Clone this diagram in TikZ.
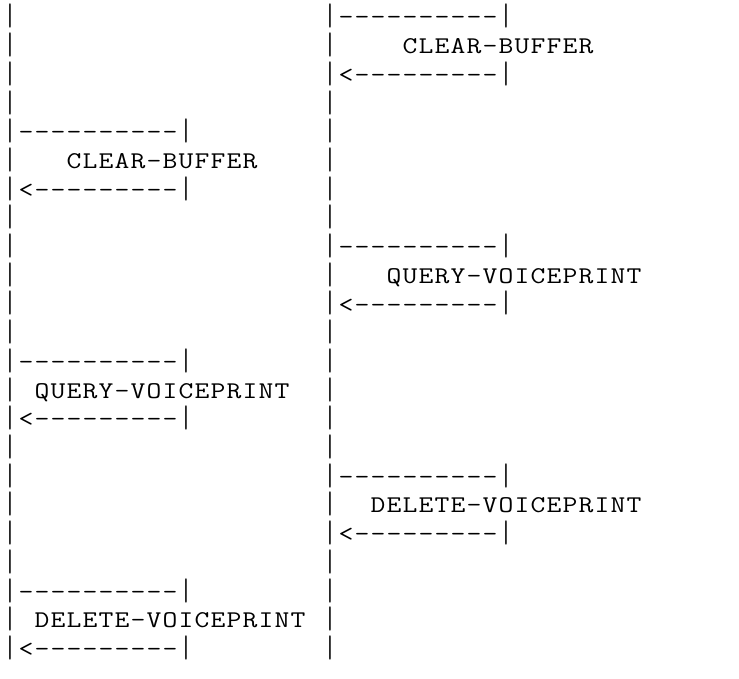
\documentclass[tikz,border=0pt]{standalone}
\usepackage{fontspec}
\newcommand\cellrow[1]{\cellrowA#1\relax}
\def\cellrowA#1{\ifx\relax#1\else
  \ifx|#1\makebox[16pt][c]{\raisebox{-1pt}{\scalebox{1}[1.3]{|}}}%
  \else\makebox[16pt][c]{\scalebox{1.2}[1]{#1}}\fi
  \expandafter\cellrowA\fi}
\tikzset{
  seg/.style={anchor=base west, inner sep=0pt, outer sep=0pt,
    font=\ttfamily\fontsize{24}{24}\selectfont, text=black}
}
\newcommand\seg[4]{\node[seg] (#1) at ({2+16*#2},{25+28.7*#3}) {\cellrow{#4}};}
\begin{document}
\begin{tikzpicture}[x=1pt,y=-1pt]
\fill[white] (0,0) rectangle (739,679);
\useasboundingbox (0,0) rectangle (739,679);
% row 0-3
\seg{l0}{0}{0}{|}\seg{m0}{20}{0}{|----------|}
\seg{l1}{0}{1}{|}\seg{m1}{20}{1}{|}\seg{t1}{25}{1}{CLEAR-BUFFER}
\seg{l2}{0}{2}{|}\seg{m2}{20}{2}{|<---------|}
\seg{l3}{0}{3}{|}\seg{m3}{20}{3}{|}
% row 4-7
\seg{l4}{0}{4}{|----------|}\seg{m4}{20}{4}{|}
\seg{l5}{0}{5}{|}\seg{t5}{4}{5}{CLEAR-BUFFER}\seg{m5}{20}{5}{|}
\seg{l6}{0}{6}{|<---------|}\seg{m6}{20}{6}{|}
\seg{l7}{0}{7}{|}\seg{m7}{20}{7}{|}
% row 8-11
\seg{l8}{0}{8}{|}\seg{m8}{20}{8}{|----------|}
\seg{l9}{0}{9}{|}\seg{m9}{20}{9}{|}\seg{t9}{24}{9}{QUERY-VOICEPRINT}
\seg{l10}{0}{10}{|}\seg{m10}{20}{10}{|<---------|}
\seg{l11}{0}{11}{|}\seg{m11}{20}{11}{|}
% row 12-15
\seg{l12}{0}{12}{|----------|}\seg{m12}{20}{12}{|}
\seg{l13}{0}{13}{|}\seg{t13}{2}{13}{QUERY-VOICEPRINT}\seg{m13}{20}{13}{|}
\seg{l14}{0}{14}{|<---------|}\seg{m14}{20}{14}{|}
\seg{l15}{0}{15}{|}\seg{m15}{20}{15}{|}
% row 16-19
\seg{l16}{0}{16}{|}\seg{m16}{20}{16}{|----------|}
\seg{l17}{0}{17}{|}\seg{m17}{20}{17}{|}\seg{t17}{23}{17}{DELETE-VOICEPRINT}
\seg{l18}{0}{18}{|}\seg{m18}{20}{18}{|<---------|}
\seg{l19}{0}{19}{|}\seg{m19}{20}{19}{|}
% row 20-22
\seg{l20}{0}{20}{|----------|}\seg{m20}{20}{20}{|}
\seg{l21}{0}{21}{|}\seg{t21}{2}{21}{DELETE-VOICEPRINT}\seg{m21}{20}{21}{|}
\seg{l22}{0}{22}{|<---------|}\seg{m22}{20}{22}{|}
\end{tikzpicture}
\end{document}
